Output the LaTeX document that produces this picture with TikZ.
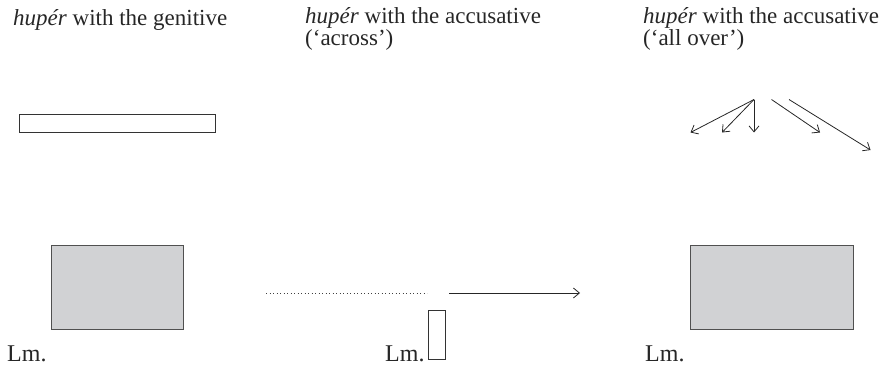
\documentclass[tikz,border=0pt]{standalone}
\usepackage{fontspec}
\setmainfont{Liberation Serif}
\usetikzlibrary{arrows.meta}
\definecolor{lmgray}{HTML}{D1D2D4}
\definecolor{edgegray}{HTML}{505050}
\tikzset{
  title/.style={anchor=base west, inner sep=0pt, align=left, font=\fontsize{23}{20.5}\selectfont, text=black!85},
  lmlabel/.style={anchor=base west, inner sep=0pt, font=\fontsize{24}{24}\selectfont, text=black!85},
  lmbox/.style={draw=edgegray, fill=lmgray, line width=0.9pt, inner sep=0pt},
  trbox/.style={draw=black!80, line width=0.9pt, inner sep=0pt},
  arr/.style={draw=black!85, line width=0.8pt, -{Straight Barb[length=6pt,width=10pt]}},
  dots/.style={draw=black!75, line width=0.8pt, dash pattern=on 1.3pt off 2.2pt}
}
\begin{document}
\begin{tikzpicture}[x=1pt,y=-1pt]
\useasboundingbox (0,0) rectangle (880,367);
% titles
\node[title] (t1) at (13,25) {\textit{hupér} with the genitive};
\node[title] (t2) at (305,45.5) {\textit{hupér} with the accusative\\(‘across’)};
\node[title] (t3) at (643,45.5) {\textit{hupér} with the accusative\\(‘all over’)};
% left panel
\node[trbox, minimum width=196pt, minimum height=18pt, anchor=north west] (bar) at (19,114) {};
\node[lmbox, minimum width=132pt, minimum height=84pt, anchor=north west] (lm1) at (50.5,244.5) {};
\node[lmlabel] (l1) at (7,361) {Lm.};
% middle panel
\coordinate (d1) at (266,293);
\coordinate (d2) at (427,293);
\draw[dots] (d1) -- (d2);
\coordinate (a1) at (449,293);
\coordinate (a2) at (580,293);
\draw[arr] (a1) -- (a2);
\node[trbox, minimum width=17pt, minimum height=49pt, anchor=north west] (lm2) at (427.5,310) {};
\node[lmlabel] (l2) at (385,361) {Lm.};
% right panel
\coordinate (o1) at (754,99.5);
\coordinate (e1) at (690.5,132.5);
\coordinate (e2) at (722,132.5);
\coordinate (e3) at (754,132.5);
\draw[arr] (o1) -- (e1);
\draw[arr] (o1) -- (e2);
\draw[arr] (o1) -- (e3);
\coordinate (o2) at (771.5,99.5);
\coordinate (e4) at (820,132.5);
\draw[arr] (o2) -- (e4);
\coordinate (o3) at (789,99.5);
\coordinate (e5) at (870.5,150);
\draw[arr] (o3) -- (e5);
\node[lmbox, minimum width=163pt, minimum height=84pt, anchor=north west] (lm3) at (689.5,244.5) {};
\node[lmlabel] (l3) at (645,361) {Lm.};
\end{tikzpicture}
\end{document}
